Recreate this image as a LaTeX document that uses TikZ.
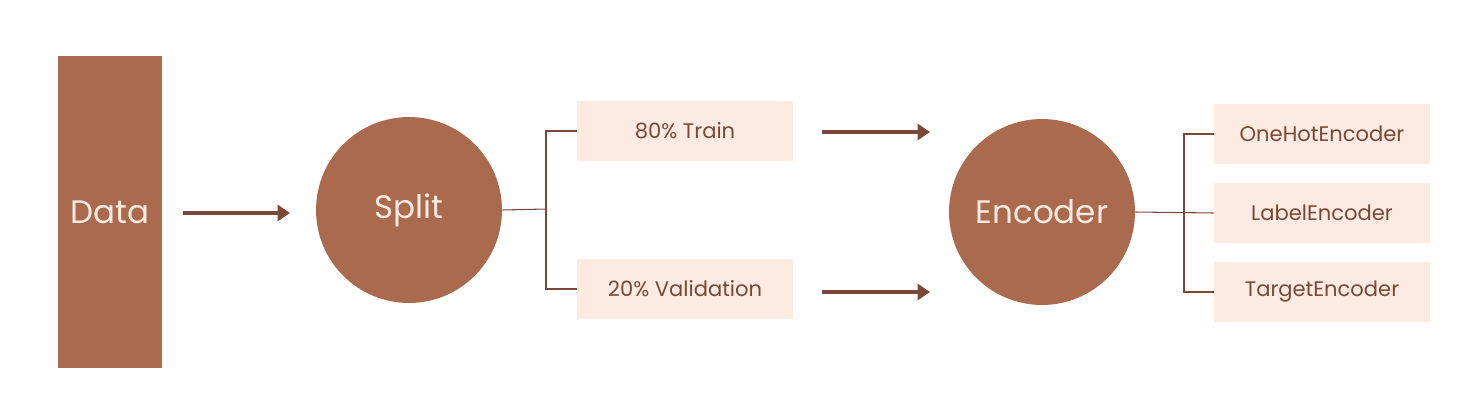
\documentclass[tikz,border=0pt]{standalone}
\usepackage{fontspec}
\setmainfont{Poppins}
\usetikzlibrary{arrows.meta}

\definecolor{clay}{HTML}{AA6A4E}
\definecolor{cream}{HTML}{FDEAE0}
\definecolor{cocoa}{HTML}{794838}

\begin{document}
\begin{tikzpicture}[x=0.02cm,y=-0.02cm,
	big/.style={fill=clay,text=cream,font=\fontsize{18.5}{22}\selectfont},
	tag/.style={fill=cream,text=cocoa,minimum width=4.32cm,minimum height=1.2cm,font=\fontsize{12}{14}\selectfont},
	flow/.style={draw=cocoa,line width=2.3pt,-{Triangle[length=7pt,width=9pt]}},
	link/.style={draw=cocoa,line width=0.6pt}]
	\useasboundingbox (0,0) rectangle (1480,416);
	\node[big,minimum width=2.1cm,minimum height=6.24cm] (data) at (110,212) {Data};
	\node[big,circle,minimum size=3.72cm] (split) at (409,210) {Split};
	\node[tag] (train) at (685,131) {80\% Train};
	\node[tag] (val) at (685,289) {20\% Validation};
	\node[big,circle,minimum size=3.72cm] (enc) at (1042,212) {Encoder};
	\node[tag] (onehot) at (1322,134) {OneHotEncoder};
	\node[tag] (label) at (1322,213) {LabelEncoder};
	\node[tag] (target) at (1322,292) {TargetEncoder};
	\coordinate (sj) at (546,209);
	\coordinate (ej) at (1184,213);
	\coordinate (a1) at (183,213);
	\coordinate (a2) at (822,132);
	\coordinate (a3) at (822,292);
	\coordinate (b1) at (290,213);
	\coordinate (b2) at (930,132);
	\coordinate (b3) at (930,292);
	\draw[flow] (a1) -- (b1);
	\draw[flow] (a2) -- (b2);
	\draw[flow] (a3) -- (b3);
	\draw[link] (split.east) -- (sj);
	\draw[link] (sj) |- (train.west);
	\draw[link] (sj) |- (val.west);
	\draw[link] (enc.east) -- (label.west);
	\draw[link] (ej) |- (onehot.west);
	\draw[link] (ej) |- (target.west);
\end{tikzpicture}
\end{document}
